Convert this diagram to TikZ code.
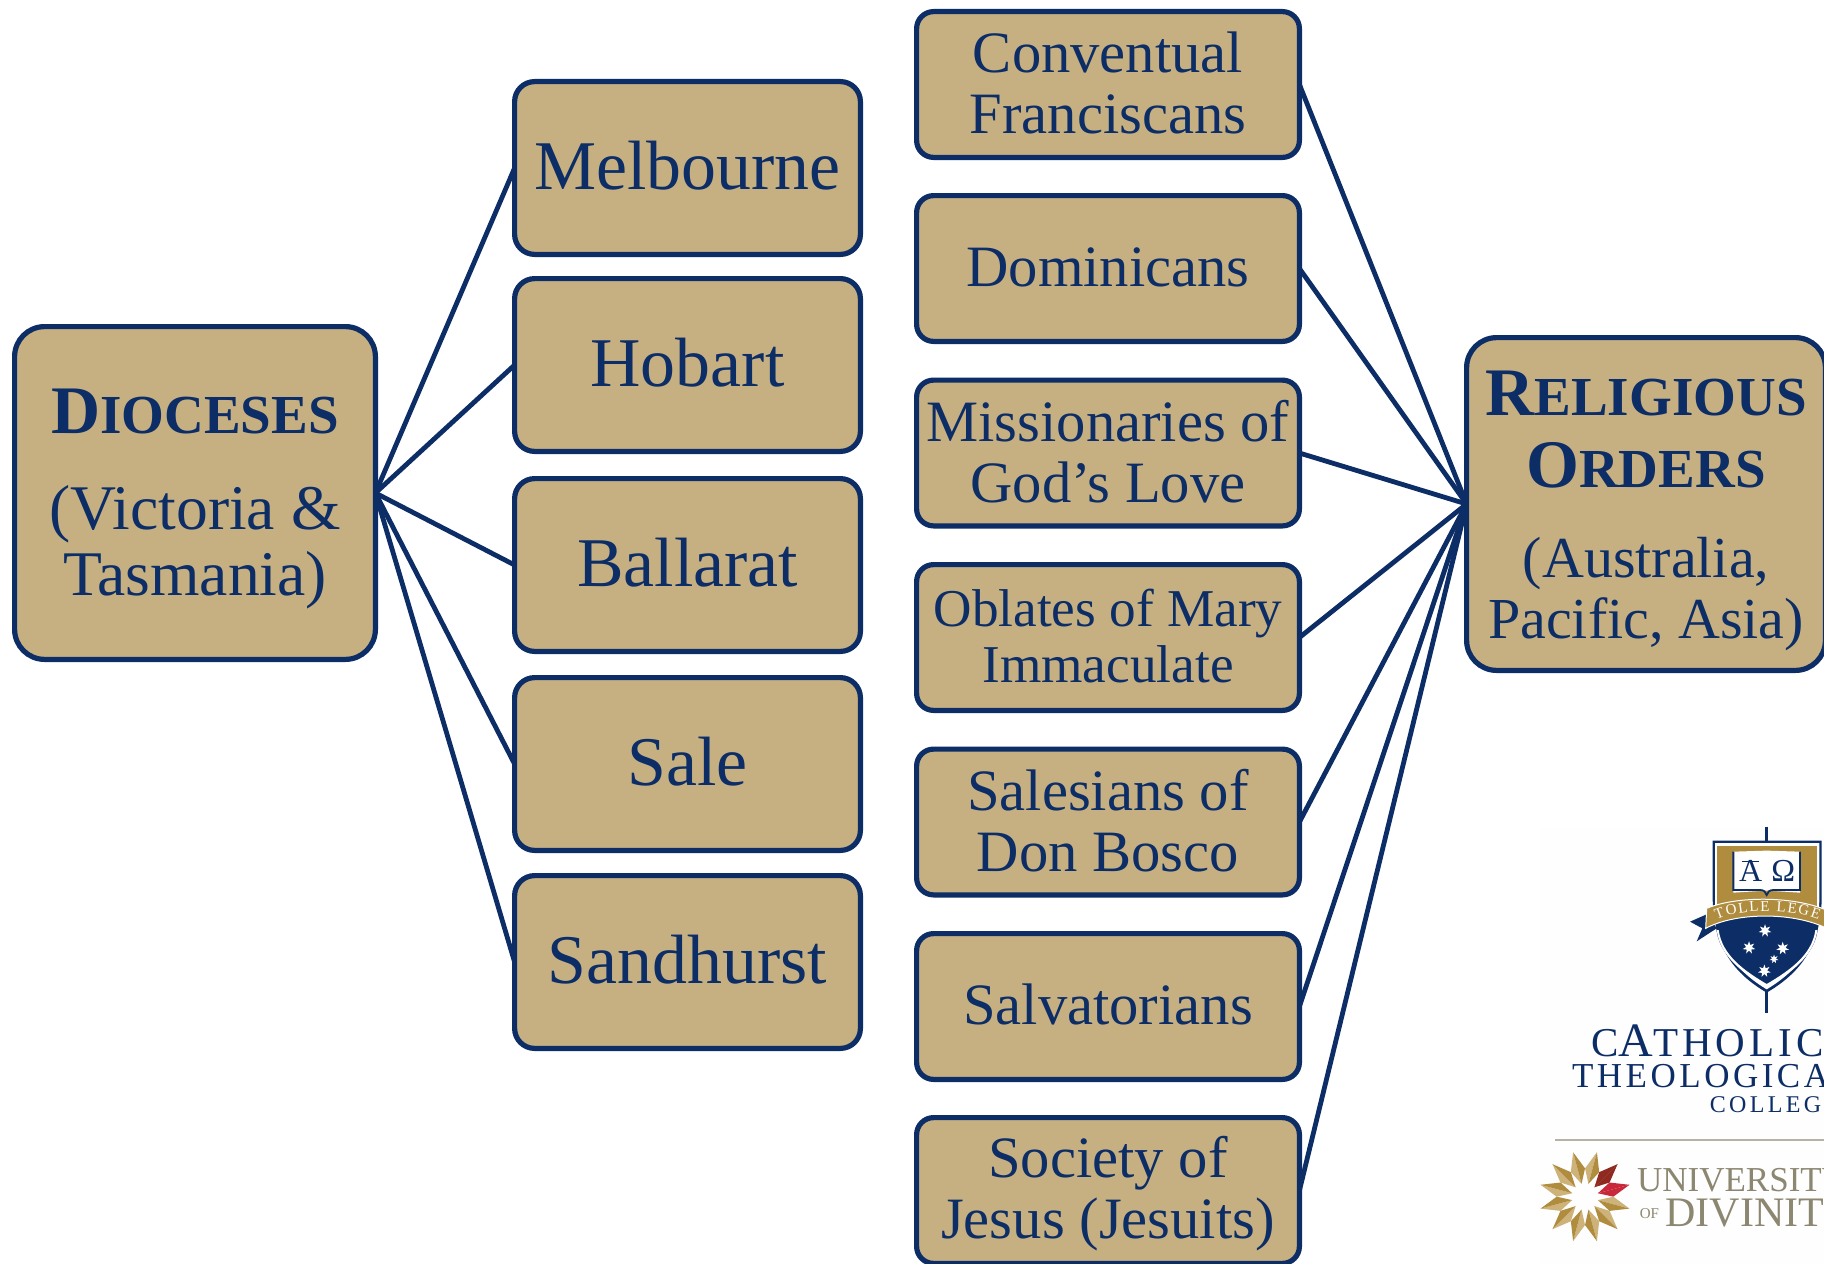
\documentclass[tikz,border=0pt]{standalone}
\usepackage{fontspec}
\setmainfont{Liberation Serif}
\newfontfamily\logoA[LetterSpace=10]{Liberation Serif}
\newfontfamily\logoB[LetterSpace=14]{Liberation Serif}
\usetikzlibrary{shapes.geometric,decorations.text,backgrounds}
\definecolor{navy}{RGB}{12,45,102}
\definecolor{tan}{RGB}{198,176,130}
\definecolor{lgold}{RGB}{176,141,62}
\definecolor{llight}{RGB}{205,178,122}
\definecolor{lgray}{RGB}{140,135,112}
\definecolor{lred}{RGB}{200,40,58}
\definecolor{ldred}{RGB}{142,42,32}
\newcommand{\sct}[2]{{\bfseries\fontsize{34}{34}\selectfont #1\fontsize{27.5}{27.5}\selectfont #2}}
\tikzset{
  anybox/.style={draw=navy,fill=tan,line width=2.6pt,text=navy,align=center,inner sep=0pt,outer sep=0pt},
  bigbox/.style={anybox,rounded corners=15pt,minimum height=166.4pt,font=\fontsize{31.8}{33}\selectfont},
  dbox/.style={anybox,rounded corners=10pt,minimum width=172.9pt,minimum height=86.4pt,font=\fontsize{34.9}{37}\selectfont},
  obox/.style={anybox,rounded corners=8.5pt,minimum width=191.4pt,minimum height=72.9pt,font=\fontsize{29.3}{30.5}\selectfont},
  link/.style={draw=navy,line width=2.4pt},
  logotext/.style={anchor=base west,inner sep=0pt,text=navy},
  univtext/.style={anchor=base west,inner sep=0pt,text=lgray},
  stella/.style={star,star points=7,star point ratio=2.2,fill=white,inner sep=0pt}
}
\begin{document}
\begin{tikzpicture}[x=0.5pt,y=-0.5pt]
\useasboundingbox (0,0) rectangle (1824,1263);
% main nodes
\node[bigbox,minimum width=180.4pt,text height=107pt,text depth=5pt] (dioceses) at (195,493)
  {\sct{D}{IOCESES}\\[15pt](Victoria \&\\Tasmania)};
\node[bigbox,minimum width=179.4pt,font=\fontsize{29}{30.5}\selectfont,text height=139pt,text depth=5pt] (orders) at (1646,504)
  {\sct{R}{ELIGIOUS}\\[5.5pt]\sct{O}{RDERS}\\[14.5pt](Australia,\\Pacific, Asia)};
\node[dbox,text height=41pt,text depth=20pt] (melbourne) at (687.5,168) {Melbourne};
\node[dbox,text height=41pt,text depth=20pt] (hobart) at (687.5,365) {Hobart};
\node[dbox,text height=41pt,text depth=20pt] (ballarat) at (687.5,565) {Ballarat};
\node[dbox,text height=41pt,text depth=20pt] (sale) at (687.5,764) {Sale};
\node[dbox,text height=41pt,text depth=20pt] (sandhurst) at (687.5,962) {Sandhurst};
\node[obox,text height=54pt,text depth=5pt] (conv) at (1108,84.5) {Conventual\\Franciscans};
\node[obox,text height=38pt,text depth=20pt] (domin) at (1108,268.5) {Dominicans};
\node[obox,text height=54pt,text depth=5pt] (miss) at (1108,453) {Missionaries of\\God’s Love};
\node[obox,font=\fontsize{26.6}{28}\selectfont,text height=49.5pt,text depth=5pt] (oblates) at (1108,637.5) {Oblates of Mary\\Immaculate};
\node[obox,text height=54pt,text depth=5pt] (sales) at (1108,822) {Salesians of\\Don Bosco};
\node[obox,text height=38pt,text depth=20pt] (salv) at (1108,1006.5) {Salvatorians};
\node[obox,text height=52.5pt,text depth=5pt] (jes) at (1108,1190.5) {Society of\\Jesus (Jesuits)};
% connectors, behind the boxes
\begin{pgfonlayer}{background}
\fill[white] (0,0) rectangle (1824,1263);
\fill[white!99.5!black] (1540,827) rectangle (1824,1263);
\foreach \n in {melbourne,hobart,ballarat,sale,sandhurst}
  \draw[link] (dioceses.east) -- (\n.west);
\foreach \n in {conv,domin,miss,oblates,sales,salv,jes}
  \draw[link] (\n.east) -- (orders.west);
\end{pgfonlayer}
% logo
\begin{scope}[shift={(1520,800)},x=0.16667pt,y=-0.16667pt]
  \draw[navy,line width=1.5pt] (740,80) -- (740,638);
  % shield
  \fill[navy] (578,122) -- (905,122) -- (905,300) .. controls (900,460) and (820,530) .. (740,578) .. controls (660,530) and (582,460) .. (578,300) -- cycle;
  \fill[white] (585,129) -- (898,129) -- (898,300) .. controls (893,455) and (815,522) .. (740,568) .. controls (665,522) and (589,455) .. (585,300) -- cycle;
  \fill[lgold] (592,137) -- (891,137) -- (891,345) -- (592,345) -- cycle;
  \fill[navy] (590,345) -- (892,345) -- (892,395) .. controls (880,470) and (810,515) .. (740,556) .. controls (670,515) and (602,470) .. (590,395) -- cycle;
  \fill[white] (590,390) .. controls (600,470) and (670,520) .. (740,562) .. controls (810,520) and (882,470) .. (892,390) -- (886,390) .. controls (876,465) and (808,512) .. (740,552) .. controls (672,512) and (606,465) .. (596,390) -- cycle;
  % book
  \fill[white] (640,155) -- (735,152) -- (745,152) -- (840,155) -- (840,278) -- (745,272) -- (735,272) -- (640,278) -- cycle;
  \draw[navy,line width=0.9pt] (640,155) -- (640,270) -- (720,270) .. controls (732,270) and (737,276) .. (740,285) .. controls (743,276) and (748,270) .. (760,270) -- (840,270) -- (840,155);
  \draw[navy,line width=0.6pt] (665,185) -- (718,185);
  \node[inner sep=0pt,text=navy,font=\fontsize{16}{17}\selectfont] (alpha) at (692,214) {A};
  \node[inner sep=0pt,text=navy,font=\fontsize{16}{17}\selectfont] (omega) at (790,212) {Ω};
  % ribbon
  \fill[navy] (562,342) -- (510,365) -- (547,385) -- (530,424) -- (590,385) -- cycle;
  \draw[white,fill=lgold,line width=0.5pt] (560,325) .. controls (650,287) and (830,287) .. (930,335) -- (930,390) .. controls (830,335) and (650,335) .. (557,385) -- cycle;
  \path[decorate,decoration={text along path,text align={fit to path},
     text={|\fontsize{7.5}{8}\selectfont\color{white}|TOLLE LEGE}}]
     (590,358) .. controls (660,325) and (820,325) .. (895,358);
  % stars
  \node[stella,minimum size=6.5pt] (st1) at (735,392) {};
  \node[stella,minimum size=6.5pt] (st2) at (687,443) {};
  \node[stella,minimum size=6.5pt] (st3) at (788,445) {};
  \node[stella,minimum size=4.5pt] (st4) at (762,477) {};
  \node[stella,minimum size=6.5pt] (st5) at (733,513) {};
  % college name
  \node[logotext,font=\logoA\fontsize{20.5}{21}\selectfont] (cath) at (212,770) {C{\fontsize{24}{24}\selectfont A}THOLIC};
  \node[logotext,font=\logoA\fontsize{17.5}{18}\selectfont] (theo) at (155,862) {THEOLOGICAL};
  \node[logotext,font=\logoB\fontsize{12}{13}\selectfont] (coll) at (568,938) {COLLEGE};
  \draw[color={rgb,255:red,181;green,179;blue,165},line width=0.8pt] (105,1020) -- (912,1020);
  % university star
  \begin{scope}[shift={(195,1190)}]
    \foreach \a [count=\i] in {15,45,...,345}{
      \pgfmathsetmacro\aa{-\a}
      \pgfmathsetmacro\ab{-\a-15}
      \pgfmathsetmacro\ac{-\a+15}
      \ifnum\i=1 \def\cl{lred}\def\cd{lred}\else
      \ifnum\i=2 \def\cl{ldred}\def\cd{ldred}\else
      \def\cl{llight}\def\cd{lgold}\fi\fi
      \fill[\cl] (\aa:40) -- (\ab:85) -- (\aa:138) -- cycle;
      \fill[\cd] (\aa:40) -- (\ac:85) -- (\aa:138) -- cycle;
    }
  \end{scope}
  \node[univtext,font=\fontsize{17.5}{18}\selectfont] (univ) at (350,1175) {UNIVERSITY};
  \node[univtext,font=\fontsize{7.5}{8}\selectfont] (of) at (358,1255) {OF};
  \node[univtext,font=\fontsize{21}{22}\selectfont] (div) at (435,1278) {DIVINITY};
\end{scope}
\end{tikzpicture}
\end{document}
